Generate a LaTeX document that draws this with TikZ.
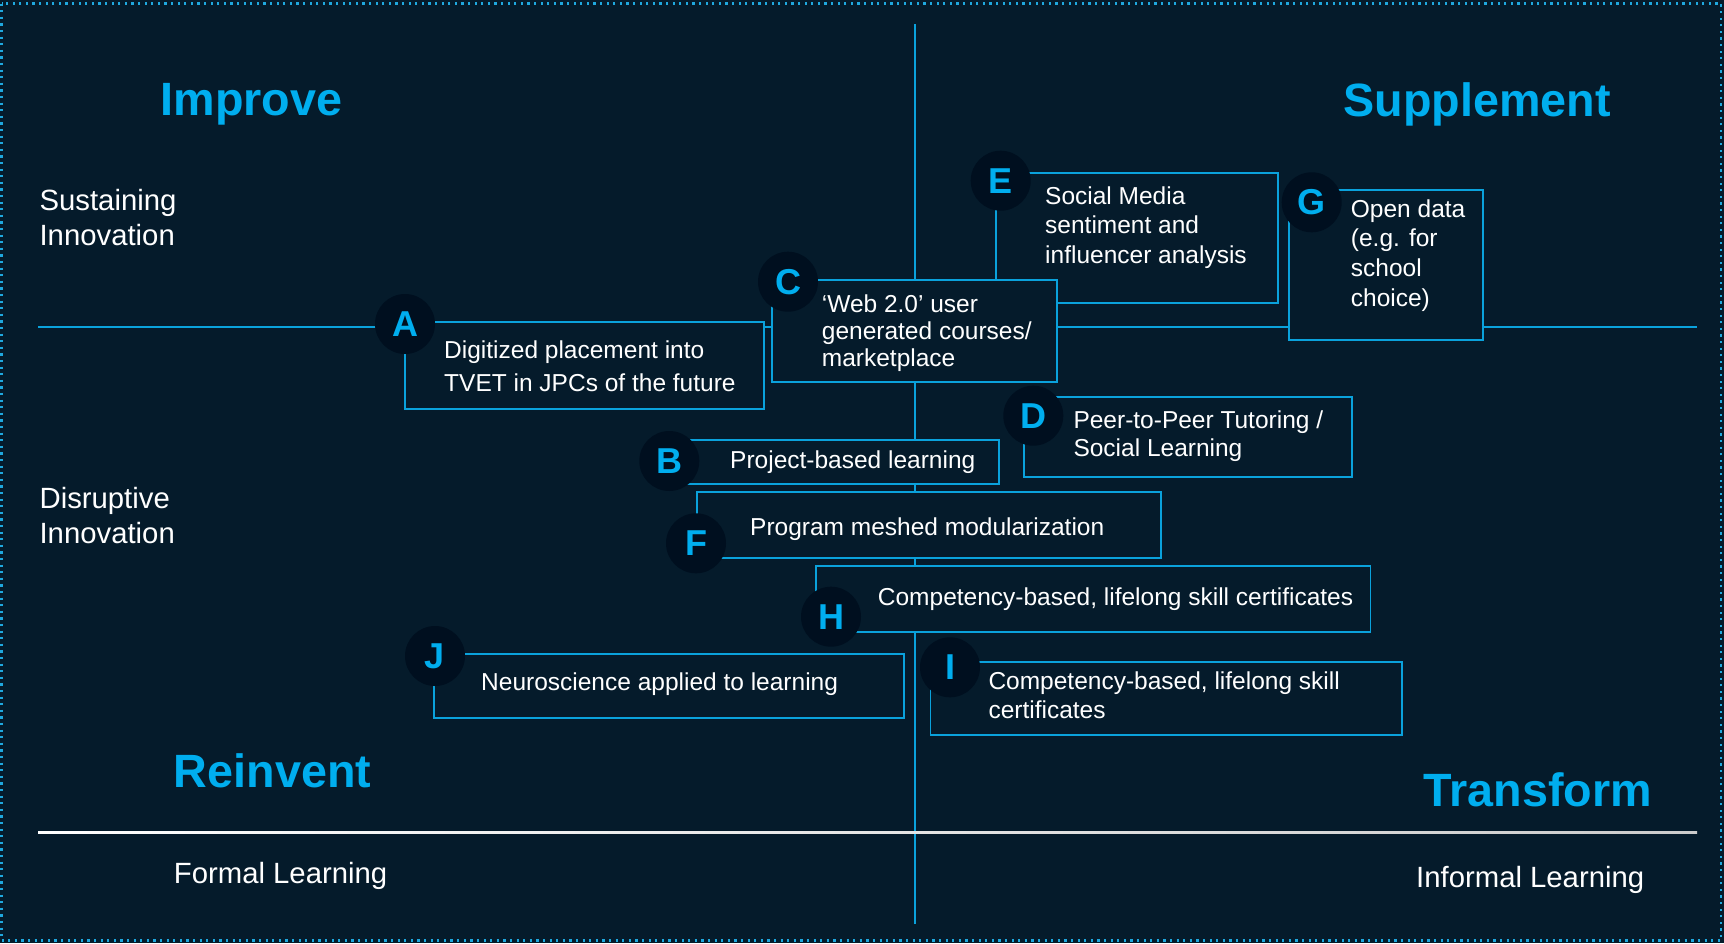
\documentclass[tikz,border=0pt]{standalone}
\usepackage{fontspec}
\setmainfont{Liberation Sans}
\usetikzlibrary{fit}
\definecolor{bg}{HTML}{051B2B}
\definecolor{circ}{HTML}{000F1F}
\definecolor{linec}{HTML}{0AA2DC}
\definecolor{titlec}{HTML}{00AEEF}
\definecolor{dotc}{HTML}{1FA8DE}
\tikzset{
  itembox/.style={draw=linec, line width=1.8pt, fill=bg, inner sep=0pt},
  badge/.style={circle, fill=circ, minimum size=60pt, inner sep=0pt, text=titlec,
    font=\fontsize{36}{36}\selectfont\bfseries},
  itemtext/.style={text=white, align=left, inner sep=0pt, anchor=base west},
  sidetext/.style={text=white, align=left, inner sep=0pt, anchor=base west,
    font=\fontsize{29.3}{34.3}\selectfont},
  quadtitle/.style={text=titlec, inner sep=0pt, anchor=base west,
    font=\fontsize{46.7}{50}\selectfont\bfseries},
  axis/.style={draw=linec, line width=1.8pt}
}
\begin{document}
\begin{tikzpicture}[x=1pt, y={(0pt,-1pt)}]
\useasboundingbox (0,0) rectangle (1724,943);
\fill[bg] (0,0) rectangle (1724,943);
\draw[dotc, line width=2.4pt, dash pattern=on 2.2pt off 4.4pt] (1.5,3.5) rectangle (1721,940.5);

% axes
\coordinate (vtop) at (915,24);
\coordinate (vbot) at (915,924);
\coordinate (hl) at (38,326.7);
\coordinate (hr) at (1697,326.7);
\draw[axis] (vtop) -- (vbot);
\draw[axis] (hl) -- (hr);
\shade[left color=white, right color=white!60!gray] (38,831.3) rectangle (1697,833.3);

% quadrant titles
\node[quadtitle] (improve) at (160.5,115) {Improve};
\node[quadtitle] (supplement) at (1343.3,116) {Supplement};
\node[quadtitle] (reinvent) at (173.7,787) {Reinvent};
\node[quadtitle] (transform) at (1423.5,806) {Transform};

% side labels (anchor = baseline of last line)
\node[sidetext] (sustain) at (39.4,245) {Sustaining\\Innovation};
\node[sidetext] (disrupt) at (39.4,543) {Disruptive\\Innovation};
\node[sidetext] (formal) at (173.7,883) {Formal Learning};
\node[sidetext] (informal) at (1416,887) {Informal Learning};

% E
\node[itembox, fit={(995.7,172.7) (1277.6,302.7)}] (boxE) {};
\node[badge] (cE) at (1000.7,180.7) {E};
\node[itemtext, font=\fontsize{24.5}{29.5}\selectfont] (tE) at (1045,263.3) {Social Media\\sentiment and\\influencer analysis};
% C
\node[itembox, fit={(771.7,280) (1057,381.7)}] (boxC) {};
\node[badge] (cC) at (788,281.7) {C};
\node[itemtext, font=\fontsize{24.5}{27}\selectfont] (tC) at (821.7,366.7) {‘Web 2.0’ user\\generated courses/\\marketplace};
% A
\node[itembox, fit={(404.7,321.7) (764,409)}] (boxA) {};
\node[badge] (cA) at (405,324) {A};
\node[itemtext, font=\fontsize{24.5}{33.4}\selectfont] (tA) at (444,391.7) {Digitized placement into\\TVET in JPCs of the future};
% G
\node[itembox, fit={(1289.3,190.3) (1483,340)}] (boxG) {};
\node[badge] (cG) at (1311.7,202.3) {G};
\node[itemtext, font=\fontsize{24.5}{29.6}\selectfont] (tG) at (1350.7,306) {Open data\\(e.g. for\\school\\choice)};
% D
\node[itembox, fit={(1024,397) (1351.7,477.3)}] (boxD) {};
\node[badge] (cD) at (1033.3,415.7) {D};
\node[itemtext, font=\fontsize{24.5}{28.4}\selectfont] (tD) at (1073.3,456.7) {Peer-to-Peer Tutoring /\\Social Learning};
% B
\node[itembox, fit={(669,439.7) (999.3,483.7)}] (boxB) {};
\node[badge] (cB) at (669.3,461) {B};
\node[itemtext, font=\fontsize{24.5}{28}\selectfont] (tB) at (730,468.3) {Project-based learning};
% F
\node[itembox, fit={(696.7,492) (1160.6,557.7)}] (boxF) {};
\node[badge] (cF) at (696,543.3) {F};
\node[itemtext, font=\fontsize{24.5}{28}\selectfont] (tF) at (750,535) {Program meshed modularization};
% H
\node[itembox, fit={(816.3,566) (1370.5,631.7)}] (boxH) {};
\node[badge] (cH) at (831,616.7) {H};
\node[itemtext, font=\fontsize{24.5}{28}\selectfont] (tH) at (877.7,605) {Competency-based, lifelong skill certificates};
% I
\node[itembox, fit={(930.5,662.3) (1402.3,735)}] (boxI) {};
\node[badge] (cI) at (950,667.3) {I};
\node[itemtext, font=\fontsize{24.5}{29}\selectfont] (tI) at (988.3,718.3) {Competency-based, lifelong skill\\certificates};
% J
\node[itembox, fit={(434.3,653.7) (904,718.3)}] (boxJ) {};
\node[badge] (cJ) at (435,656) {J};
\node[itemtext, font=\fontsize{24.5}{28}\selectfont] (tJ) at (481,690.7) {Neuroscience applied to learning};
\end{tikzpicture}
\end{document}
